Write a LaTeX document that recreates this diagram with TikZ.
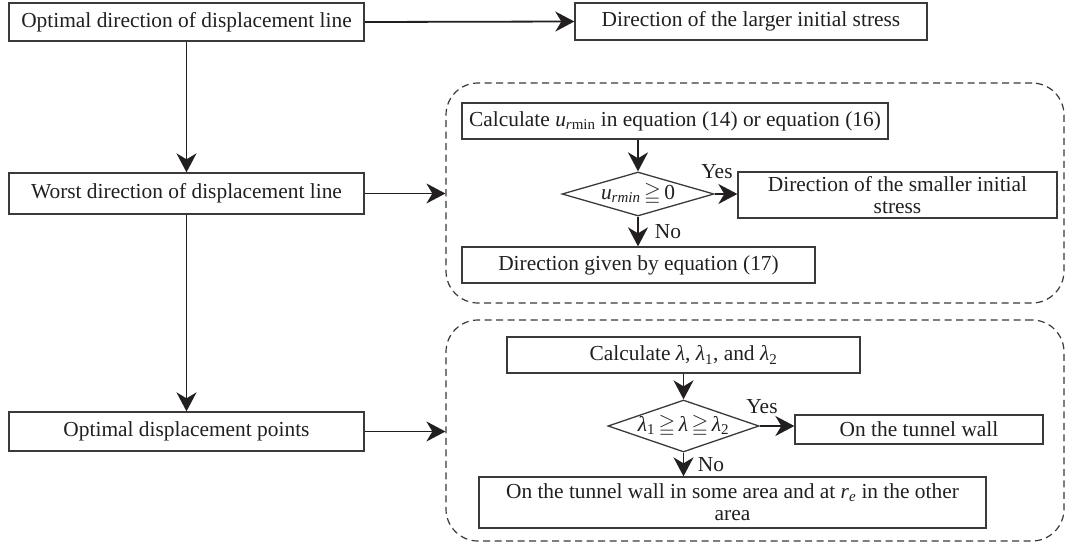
\documentclass[tikz,border=0pt]{standalone}
\usepackage{amssymb}
\usepackage{fontspec}
\setmainfont{Liberation Serif}
\usetikzlibrary{arrows.meta,shapes.geometric}
\definecolor{ink}{HTML}{231F20}
\definecolor{edge}{HTML}{3A3A3A}
\tikzset{
  txt/.style={font=\fontsize{21.4}{22}\selectfont, text=ink, align=center, inner sep=0pt},
  stepbox/.style={txt, draw=edge, line width=1.3pt, fill=white},
  decision/.style={shape=diamond, draw=edge, line width=1.3pt, inner sep=0pt},
  region/.style={draw=edge, line width=1.2pt, dash pattern=on 7pt off 4.5pt, rounded corners=32pt, inner sep=0pt},
  arr/.style={draw=ink, line width=1.8pt, -{Stealth[length=19pt,width=20pt,inset=6pt]}},
  lbl/.style={txt}
}
\begin{document}
\begin{tikzpicture}[x=1pt,y=-1pt]
\fill[white] (0,0) rectangle (1066,546);
\useasboundingbox (0,0) rectangle (1066,546);
% left column
\node[stepbox, line width=2.2pt, minimum width=355pt, minimum height=38pt] (b1) at (186.5,22) {Optimal direction of displacement line};
\node[stepbox, minimum width=352pt, minimum height=37pt] (bL) at (751,21.5) {Direction of the larger initial stress};
\node[stepbox, minimum width=355pt, minimum height=41pt] (b2) at (186.5,193.5) {Worst direction of displacement line};
\node[stepbox, minimum width=355pt, minimum height=39pt] (b3) at (186.5,431.5) {Optimal displacement points};
% dashed regions
\node[region, minimum width=618pt, minimum height=220pt] (r1) at (755,193) {};
\node[region, minimum width=618pt, minimum height=221pt] (r2) at (755,430.5) {};
% region 1 content
\node[stepbox, minimum width=426pt, minimum height=36pt] (cu) at (675,121) {Calculate \textit{u}\textsubscript{\textit{r}min} in equation (14) or equation (16)};
\node[decision, minimum width=152pt, minimum height=44pt] (d1) at (638,194) {};
\node[txt] (d1t) at (638,194) {\textit{u}\textsubscript{\textit{rmin}}\,$\geqq$\,0};
\node[stepbox, minimum width=319pt, minimum height=46pt] (bs) at (897.5,195) {Direction of the smaller initial\\stress};
\node[stepbox, minimum width=353pt, minimum height=36pt] (be) at (638.5,265) {Direction given by equation (17)};
\node[lbl] (y1) at (717,172) {Yes};
\node[lbl] (n1) at (668,232) {No};
% region 2 content
\node[stepbox, minimum width=353pt, minimum height=36pt] (cl) at (683.5,355) {Calculate \textit{λ}, \textit{λ}\textsubscript{1}, and \textit{λ}\textsubscript{2}};
\node[decision, minimum width=151pt, minimum height=52pt] (d2) at (683.5,426) {};
\node[txt] (d2t) at (683.5,426) {\textit{λ}\textsubscript{1}\,$\geqq$\,\textit{λ}\,$\geqq$\,\textit{λ}\textsubscript{2}};
\node[stepbox, minimum width=248pt, minimum height=29pt] (bw) at (919,429.5) {On the tunnel wall};
\node[stepbox, minimum width=507pt, minimum height=51pt] (bo) at (732.5,502.5) {On the tunnel wall in some area and at \textit{r}\textsubscript{\textit{e}} in the other\\area};
\node[lbl] (y2) at (762,407) {Yes};
\node[lbl] (n2) at (711,465) {No};
% connectors
\draw[arr] (b1.east) -- (bL.west);
\draw[arr] (b1.south) -- (b2.north);
\draw[arr] (b2.south) -- (b3.north);
\draw[arr] (b2.east) -- (b2.east -| r1.west);
\draw[arr] (b3.east) -- (b3.east -| r2.west);
\draw[arr] (d1.north |- cu.south) -- (d1.north);
\draw[arr] (d1.east) -- (d1.east -| bs.west);
\draw[arr] (d1.south) -- (d1.south |- be.north);
\draw[arr] (cl.south) -- (d2.north);
\draw[arr] (d2.east) -- (d2.east -| bw.west);
\draw[arr] (d2.south) -- (d2.south |- bo.north);
\end{tikzpicture}
\end{document}
